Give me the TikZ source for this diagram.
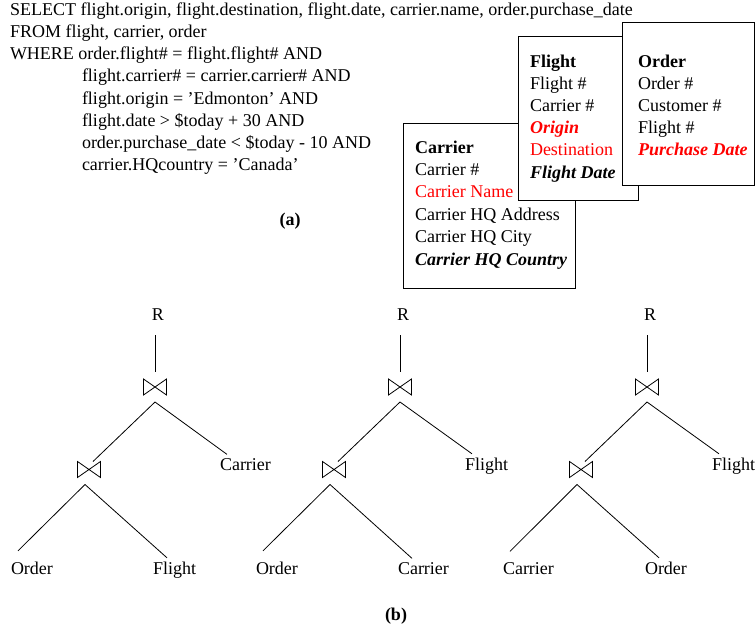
\documentclass[tikz,border=0pt]{standalone}
\usepackage{fontspec}
\setmainfont{Liberation Serif}
% bow-tie join symbol drawn over an (invisible) node
\newcommand\drawjoin[1]{\draw[wire] (#1.north west) -- (#1.south east) -- (#1.north east) -- (#1.south west) -- cycle;}
\begin{document}
\begin{tikzpicture}[x=1pt,y=-1pt,
  every node/.style={font=\fontsize{18}{22}\selectfont, inner sep=0pt, outer sep=0pt},
  txt/.style={anchor=base west},
  ctr/.style={anchor=base},
  relbox/.style={draw, fill=white, line width=0.8pt, anchor=north west, inner sep=0pt},
  wire/.style={line width=0.8pt, line join=miter},
  joinnode/.style={minimum width=23pt, minimum height=16pt, inner sep=0pt}]
\useasboundingbox (0,0) rectangle (755,627);

% ---- SQL query ----
\node[txt] (sql1) at (10,15)  {SELECT flight.origin, flight.destination, flight.date, carrier.name, order.purchase\_date};
\node[txt] (sql2) at (10,37)  {FROM flight, carrier, order};
\node[txt] (sql3) at (10,59)  {WHERE order.flight\# = flight.flight\# AND};
\node[txt] (sql4) at (82,81)  {flight.carrier\# = carrier.carrier\# AND};
\node[txt] (sql5) at (82,104) {flight.origin = 'Edmonton' AND};
\node[txt] (sql6) at (82,126) {flight.date > \$today + 30 AND};
\node[txt] (sql7) at (82,148) {order.purchase\_date < \$today - 10 AND};
\node[txt] (sql8) at (82,170) {carrier.HQcountry = 'Canada'};
\node[ctr] (capA) at (290,225.5) {\bfseries (a)};

% ---- relation schemas ----
\node[relbox, minimum width=172pt, minimum height=165pt] (carrierBox) at (403,123) {};
\foreach \t [count=\k] in {\textbf{Carrier}, Carrier \#, \textcolor{red}{Carrier Name},
    Carrier HQ Address, Carrier HQ City, \textbf{\textit{Carrier HQ Country}}}
  \node[txt] (carrier\k) at (415,{153+22.4*(\k-1)}) {\t};

\node[relbox, minimum width=120pt, minimum height=164pt] (flightBox) at (518,36) {};
\foreach \t [count=\k] in {\textbf{Flight}, Flight \#, Carrier \#,
    \textcolor{red}{\textbf{\textit{Origin}}}, \textcolor{red}{Destination}, \textbf{\textit{Flight Date}}}
  \node[txt] (flight\k) at (530,{67+22.2*(\k-1)}) {\t};

\node[relbox, minimum width=132.4pt, minimum height=163pt] (orderBox) at (622,22) {};
\foreach \t [count=\k] in {\textbf{Order}, Order \#, Customer \#, Flight \#,
    \textcolor{red}{\textbf{\textit{Purchase Date}}}}
  \node[txt] (order\k) at (638,{67+22.2*(\k-1)}) {\t};

% ---- join trees ----
\foreach \x/\lab/\ll/\rl [count=\i] in {153/Carrier/Order/Flight, 398/Flight/Order/Carrier, 645/Flight/Carrier/Order}
{
  \node[ctr] (R\i) at (\x+5,320) {R};
  \node[joinnode] (J\i) at (\x+2,387) {};
  \node[joinnode] (K\i) at (\x-64,469.5) {};
  \node[txt] (S\i) at (\x+67,470) {\lab};
  \node[txt] (L\i) at (\x-142,574) {\ll};
  \node[txt] (M\i) at (\x,574) {\rl};
  \drawjoin{J\i}
  \drawjoin{K\i}
  \draw[wire, shorten <=15pt, shorten >=7pt] (R\i.base -| J\i.north) -- (J\i.north);
  \draw[wire] ([yshift=-7pt]J\i.south) -- ([xshift=4pt]K\i.north);
  \draw[wire] ([yshift=-7pt]J\i.south) -- ([xshift=7pt,yshift=3.7pt]S\i.north west);
  \draw[wire] ([xshift=-4pt,yshift=-7pt]K\i.south) -- ([xshift=7pt,yshift=10.7pt]L\i.north west);
  \draw[wire] ([xshift=-4pt,yshift=-7pt]K\i.south) -- ([xshift=14pt,yshift=3.7pt]M\i.north west);
}
\node[ctr] (capB) at (396,620) {\bfseries (b)};
\end{tikzpicture}
\end{document}
